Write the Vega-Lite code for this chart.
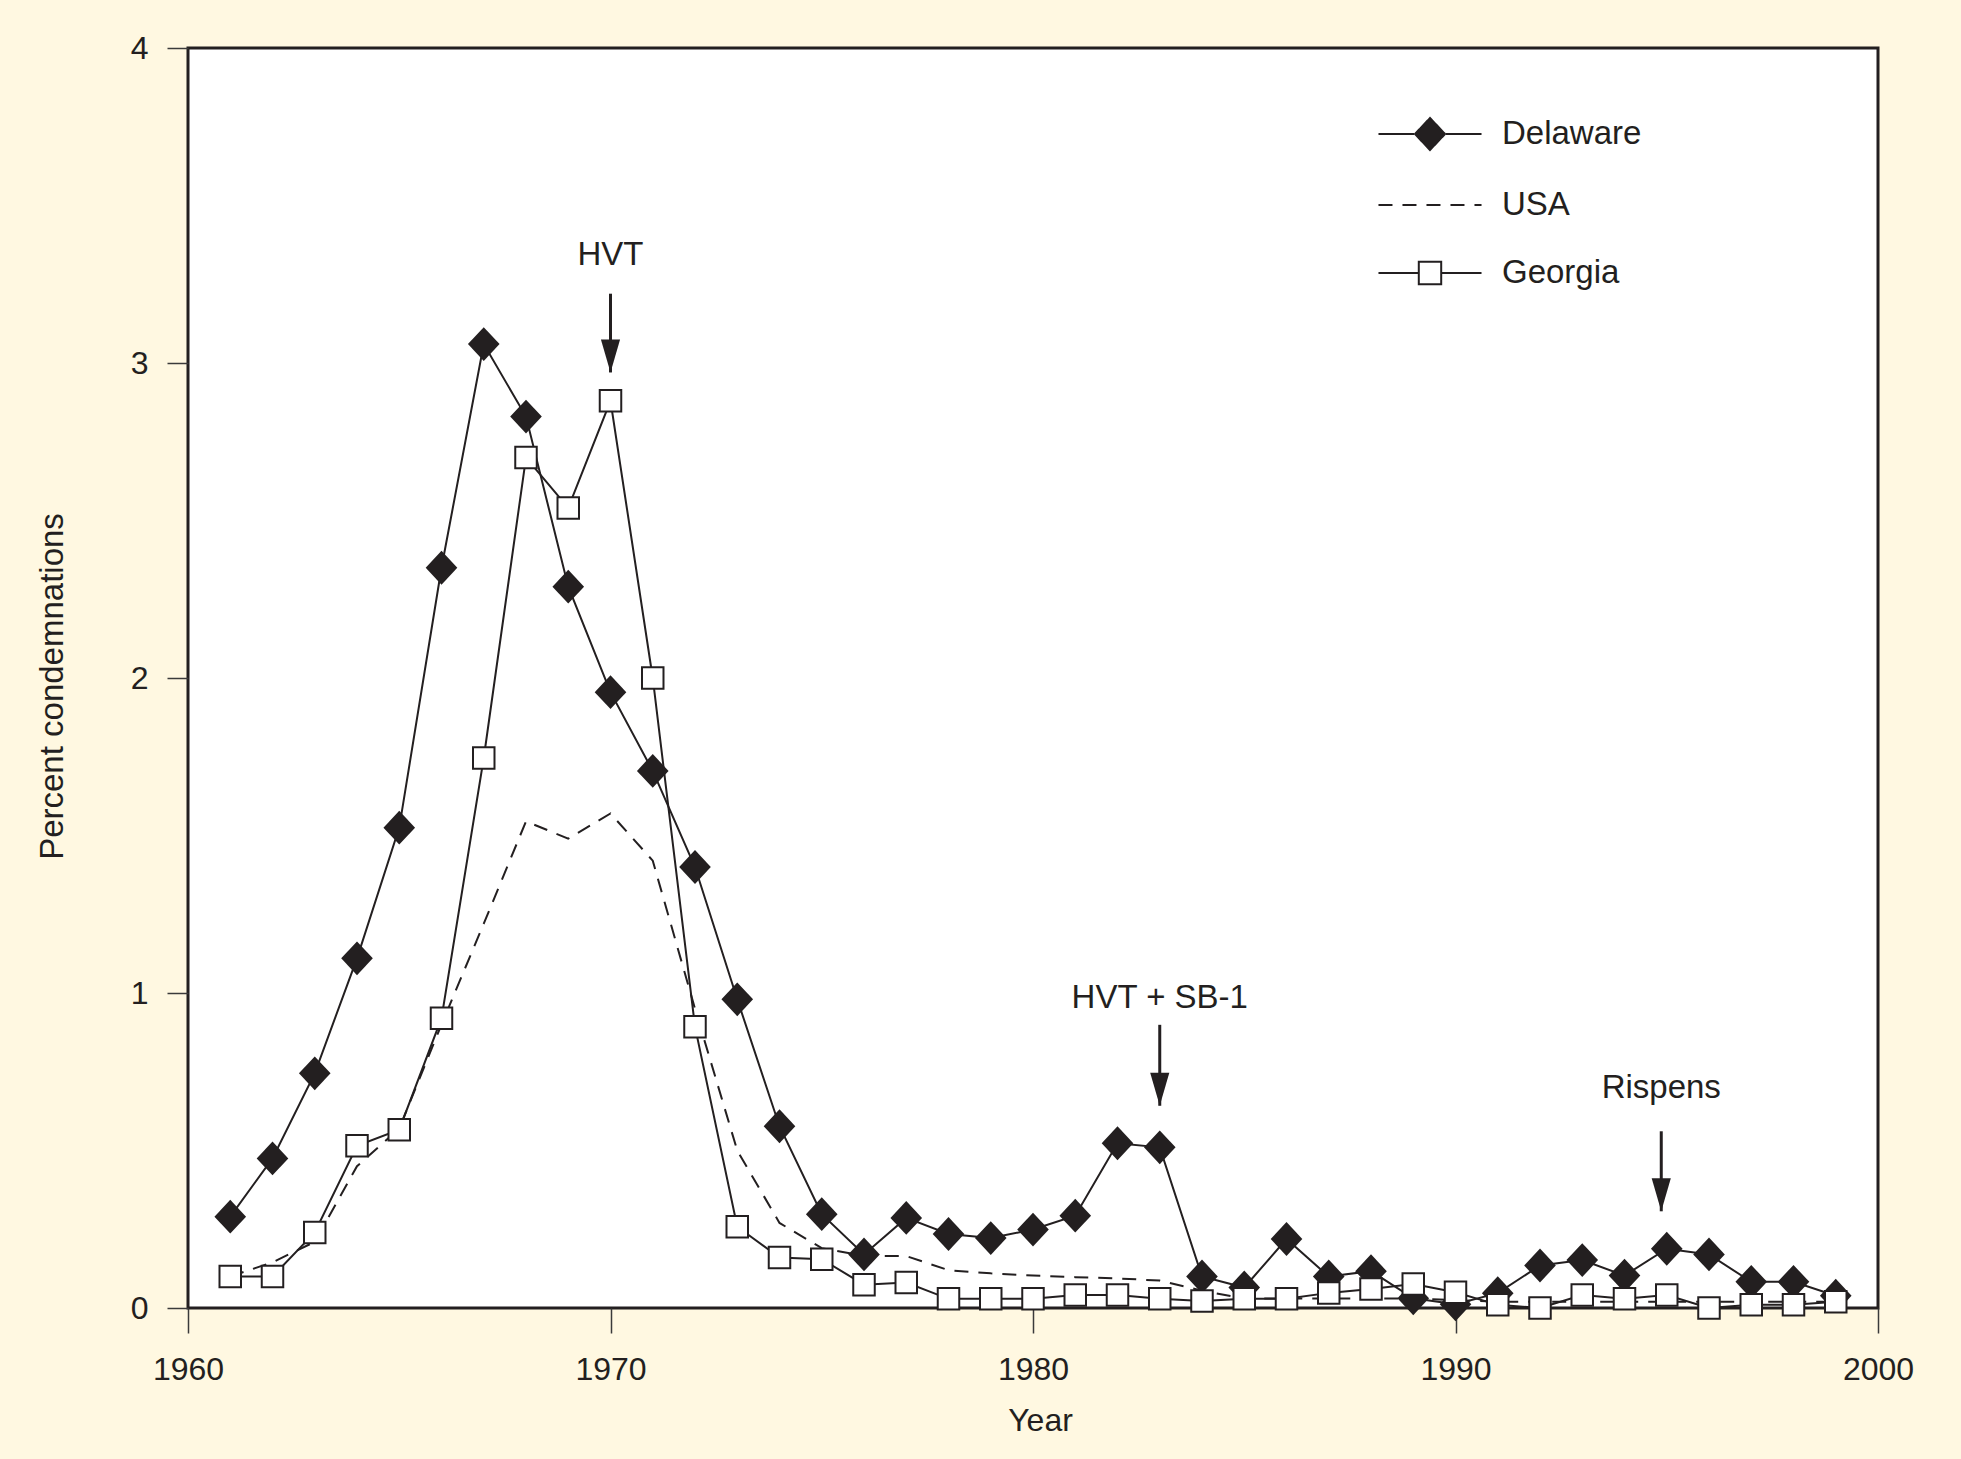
{
  "$schema": "https://vega.github.io/schema/vega-lite/v6.json",
  "width": 1690,
  "height": 1260,
  "autosize": {"type": "none"},
  "padding": {"left": 188, "top": 48, "right": 83, "bottom": 151},
  "background": "#fff8e1",
  "view": {"fill": "#ffffff", "stroke": "#231f20", "strokeWidth": 3},
  "config": {
    "font": "Liberation Sans",
    "text": {"color": "#231f20"},
    "axis": {"labelColor": "#231f20", "titleColor": "#231f20", "titleFontWeight": "normal", "grid": false, "domain": false}
  },
  "datasets": {
    "rates": [
      {"year": 1961, "state": "Delaware", "pct": 0.29},
      {"year": 1962, "state": "Delaware", "pct": 0.475},
      {"year": 1963, "state": "Delaware", "pct": 0.745},
      {"year": 1964, "state": "Delaware", "pct": 1.11},
      {"year": 1965, "state": "Delaware", "pct": 1.525},
      {"year": 1966, "state": "Delaware", "pct": 2.35},
      {"year": 1967, "state": "Delaware", "pct": 3.06},
      {"year": 1968, "state": "Delaware", "pct": 2.83},
      {"year": 1969, "state": "Delaware", "pct": 2.29},
      {"year": 1970, "state": "Delaware", "pct": 1.955},
      {"year": 1971, "state": "Delaware", "pct": 1.705},
      {"year": 1972, "state": "Delaware", "pct": 1.4},
      {"year": 1973, "state": "Delaware", "pct": 0.98},
      {"year": 1974, "state": "Delaware", "pct": 0.577},
      {"year": 1975, "state": "Delaware", "pct": 0.298},
      {"year": 1976, "state": "Delaware", "pct": 0.17},
      {"year": 1977, "state": "Delaware", "pct": 0.286},
      {"year": 1978, "state": "Delaware", "pct": 0.235},
      {"year": 1979, "state": "Delaware", "pct": 0.222},
      {"year": 1980, "state": "Delaware", "pct": 0.249},
      {"year": 1981, "state": "Delaware", "pct": 0.293},
      {"year": 1982, "state": "Delaware", "pct": 0.523},
      {"year": 1983, "state": "Delaware", "pct": 0.51},
      {"year": 1984, "state": "Delaware", "pct": 0.1},
      {"year": 1985, "state": "Delaware", "pct": 0.065},
      {"year": 1986, "state": "Delaware", "pct": 0.219},
      {"year": 1987, "state": "Delaware", "pct": 0.1},
      {"year": 1988, "state": "Delaware", "pct": 0.117},
      {"year": 1989, "state": "Delaware", "pct": 0.031},
      {"year": 1990, "state": "Delaware", "pct": 0.012},
      {"year": 1991, "state": "Delaware", "pct": 0.047},
      {"year": 1992, "state": "Delaware", "pct": 0.135},
      {"year": 1993, "state": "Delaware", "pct": 0.152},
      {"year": 1994, "state": "Delaware", "pct": 0.103},
      {"year": 1995, "state": "Delaware", "pct": 0.188},
      {"year": 1996, "state": "Delaware", "pct": 0.17},
      {"year": 1997, "state": "Delaware", "pct": 0.083},
      {"year": 1998, "state": "Delaware", "pct": 0.083},
      {"year": 1999, "state": "Delaware", "pct": 0.039},
      {"year": 1961, "state": "Georgia", "pct": 0.1},
      {"year": 1962, "state": "Georgia", "pct": 0.1},
      {"year": 1963, "state": "Georgia", "pct": 0.24},
      {"year": 1964, "state": "Georgia", "pct": 0.515},
      {"year": 1965, "state": "Georgia", "pct": 0.566},
      {"year": 1966, "state": "Georgia", "pct": 0.92},
      {"year": 1967, "state": "Georgia", "pct": 1.746},
      {"year": 1968, "state": "Georgia", "pct": 2.7},
      {"year": 1969, "state": "Georgia", "pct": 2.54},
      {"year": 1970, "state": "Georgia", "pct": 2.88},
      {"year": 1971, "state": "Georgia", "pct": 2.0},
      {"year": 1972, "state": "Georgia", "pct": 0.893},
      {"year": 1973, "state": "Georgia", "pct": 0.258},
      {"year": 1974, "state": "Georgia", "pct": 0.16},
      {"year": 1975, "state": "Georgia", "pct": 0.155},
      {"year": 1976, "state": "Georgia", "pct": 0.074},
      {"year": 1977, "state": "Georgia", "pct": 0.081},
      {"year": 1978, "state": "Georgia", "pct": 0.029},
      {"year": 1979, "state": "Georgia", "pct": 0.029},
      {"year": 1980, "state": "Georgia", "pct": 0.029},
      {"year": 1981, "state": "Georgia", "pct": 0.041},
      {"year": 1982, "state": "Georgia", "pct": 0.041},
      {"year": 1983, "state": "Georgia", "pct": 0.029},
      {"year": 1984, "state": "Georgia", "pct": 0.022},
      {"year": 1985, "state": "Georgia", "pct": 0.029},
      {"year": 1986, "state": "Georgia", "pct": 0.029},
      {"year": 1987, "state": "Georgia", "pct": 0.048},
      {"year": 1988, "state": "Georgia", "pct": 0.06},
      {"year": 1989, "state": "Georgia", "pct": 0.076},
      {"year": 1990, "state": "Georgia", "pct": 0.05},
      {"year": 1991, "state": "Georgia", "pct": 0.01},
      {"year": 1992, "state": "Georgia", "pct": 0.0},
      {"year": 1993, "state": "Georgia", "pct": 0.041},
      {"year": 1994, "state": "Georgia", "pct": 0.029},
      {"year": 1995, "state": "Georgia", "pct": 0.041},
      {"year": 1996, "state": "Georgia", "pct": 0.0},
      {"year": 1997, "state": "Georgia", "pct": 0.01},
      {"year": 1998, "state": "Georgia", "pct": 0.01},
      {"year": 1999, "state": "Georgia", "pct": 0.02},
      {"year": 1961, "state": "USA", "pct": 0.1},
      {"year": 1962, "state": "USA", "pct": 0.145},
      {"year": 1963, "state": "USA", "pct": 0.21},
      {"year": 1964, "state": "USA", "pct": 0.45},
      {"year": 1965, "state": "USA", "pct": 0.57},
      {"year": 1966, "state": "USA", "pct": 0.9},
      {"year": 1967, "state": "USA", "pct": 1.22},
      {"year": 1968, "state": "USA", "pct": 1.545},
      {"year": 1969, "state": "USA", "pct": 1.49},
      {"year": 1970, "state": "USA", "pct": 1.57},
      {"year": 1971, "state": "USA", "pct": 1.42},
      {"year": 1972, "state": "USA", "pct": 0.95},
      {"year": 1973, "state": "USA", "pct": 0.5},
      {"year": 1974, "state": "USA", "pct": 0.27},
      {"year": 1975, "state": "USA", "pct": 0.19},
      {"year": 1976, "state": "USA", "pct": 0.165},
      {"year": 1977, "state": "USA", "pct": 0.165},
      {"year": 1978, "state": "USA", "pct": 0.12},
      {"year": 1979, "state": "USA", "pct": 0.11},
      {"year": 1980, "state": "USA", "pct": 0.103},
      {"year": 1981, "state": "USA", "pct": 0.098},
      {"year": 1982, "state": "USA", "pct": 0.094},
      {"year": 1983, "state": "USA", "pct": 0.087},
      {"year": 1984, "state": "USA", "pct": 0.055},
      {"year": 1985, "state": "USA", "pct": 0.03},
      {"year": 1986, "state": "USA", "pct": 0.03},
      {"year": 1987, "state": "USA", "pct": 0.03},
      {"year": 1988, "state": "USA", "pct": 0.03},
      {"year": 1989, "state": "USA", "pct": 0.03},
      {"year": 1990, "state": "USA", "pct": 0.025},
      {"year": 1991, "state": "USA", "pct": 0.02},
      {"year": 1992, "state": "USA", "pct": 0.02},
      {"year": 1993, "state": "USA", "pct": 0.02},
      {"year": 1994, "state": "USA", "pct": 0.02},
      {"year": 1995, "state": "USA", "pct": 0.02},
      {"year": 1996, "state": "USA", "pct": 0.02},
      {"year": 1997, "state": "USA", "pct": 0.02},
      {"year": 1998, "state": "USA", "pct": 0.02},
      {"year": 1999, "state": "USA", "pct": 0.02}
    ],
    "notes": [
      {"label": "HVT", "year": 1970, "ytext": 3.344, "ytop": 3.22, "ytip": 2.97},
      {"label": "HVT + SB-1", "year": 1983, "ytext": 0.983, "ytop": 0.899, "ytip": 0.642},
      {"label": "Rispens", "year": 1994.87, "ytext": 0.699, "ytop": 0.561, "ytip": 0.307}
    ]
  },
  "layer": [
    {
      "data": {"name": "rates"},
      "transform": [{"filter": "datum.state === 'USA'"}],
      "mark": {"type": "line", "stroke": "#231f20", "strokeWidth": 2, "strokeDash": [14, 10]},
      "encoding": {
        "x": {
          "field": "year", "type": "quantitative",
          "scale": {"domain": [1960, 2000], "nice": false, "zero": false},
          "axis": {
            "title": "Year", "values": [1960, 1970, 1980, 1990, 2000], "format": "d",
            "tickSize": 25, "tickWidth": 1.5, "tickColor": "#3a3a3a",
            "labelFontSize": 32, "labelPadding": 21, "labelFlush": false,
            "titleFontSize": 32, "titlePadding": 20, "titleX": 852
          }
        },
        "y": {
          "field": "pct", "type": "quantitative",
          "scale": {"domain": [0, 4], "nice": false},
          "axis": {
            "title": "Percent condemnations", "values": [0, 1, 2, 3, 4], "format": "d",
            "tickSize": 21, "tickWidth": 1.5, "tickColor": "#3a3a3a",
            "labelFontSize": 32, "labelPadding": 19, "labelFlush": false,
            "titleFontSize": 33, "titlePadding": 61, "titleY": 638
          }
        }
      }
    },
    {
      "data": {"name": "rates"},
      "transform": [{"filter": "datum.state === 'Delaware'"}],
      "mark": {"type": "line", "stroke": "#231f20", "strokeWidth": 2},
      "encoding": {
        "x": {"field": "year", "type": "quantitative"},
        "y": {"field": "pct", "type": "quantitative"}
      }
    },
    {
      "data": {"name": "rates"},
      "transform": [{"filter": "datum.state === 'Delaware'"}],
      "mark": {"type": "point", "shape": "M0,-1.07L1,0L0,1.07L-1,0Z", "size": 1000, "filled": true, "fill": "#231f20", "strokeWidth": 0, "opacity": 1},
      "encoding": {
        "x": {"field": "year", "type": "quantitative"},
        "y": {"field": "pct", "type": "quantitative"}
      }
    },
    {
      "data": {"name": "rates"},
      "transform": [{"filter": "datum.state === 'Georgia'"}],
      "mark": {"type": "line", "stroke": "#231f20", "strokeWidth": 2},
      "encoding": {
        "x": {"field": "year", "type": "quantitative"},
        "y": {"field": "pct", "type": "quantitative"}
      }
    },
    {
      "data": {"name": "rates"},
      "transform": [{"filter": "datum.state === 'Georgia'"}],
      "mark": {"type": "point", "shape": "square", "size": 462, "filled": true, "fill": "#ffffff", "stroke": "#231f20", "strokeWidth": 2, "opacity": 1},
      "encoding": {
        "x": {"field": "year", "type": "quantitative"},
        "y": {"field": "pct", "type": "quantitative"}
      }
    },
    {
      "data": {"name": "notes"},
      "mark": {"type": "rule", "stroke": "#231f20", "strokeWidth": 3},
      "encoding": {
        "x": {"field": "year", "type": "quantitative"},
        "y": {"field": "ytop", "type": "quantitative"},
        "y2": {"field": "ytip"}
      }
    },
    {
      "data": {"name": "notes"},
      "mark": {"type": "point", "shape": "M-0.58,-2L0.58,-2L0,0Z", "size": 1089, "filled": true, "fill": "#231f20", "strokeWidth": 0, "opacity": 1},
      "encoding": {
        "x": {"field": "year", "type": "quantitative"},
        "y": {"field": "ytip", "type": "quantitative"}
      }
    },
    {
      "data": {"name": "notes"},
      "mark": {"type": "text", "fontSize": 33, "align": "center", "baseline": "middle", "color": "#231f20"},
      "encoding": {
        "x": {"field": "year", "type": "quantitative"},
        "y": {"field": "ytext", "type": "quantitative"},
        "text": {"field": "label"}
      }
    },
    {
      "data": {"name": "rates"},
      "transform": [{"filter": "datum.year < 0"}],
      "mark": {"type": "point", "filled": true, "stroke": "#231f20", "strokeWidth": 2, "opacity": 1},
      "encoding": {
        "x": {"field": "year", "type": "quantitative"},
        "y": {"field": "pct", "type": "quantitative"},
        "shape": {
          "field": "state", "type": "nominal",
          "scale": {"domain": ["Delaware", "USA", "Georgia"], "range": ["M-3.22,0L-1,0M1,0L3.22,0M0,-1L0.94,0L0,1L-0.94,0Z", "M-3.22,0L3.22,0", "M-3.22,0L-0.7,0M0.7,0L3.22,0M-0.7,-0.7L0.7,-0.7L0.7,0.7L-0.7,0.7Z"]},
          "legend": {"title": null, "orient": "none", "legendX": 1225, "legendY": 69, "padding": 0, "symbolSize": 1024, "symbolStrokeWidth": 2, "symbolOpacity": 1, "labelFontSize": 33, "labelColor": "#231f20", "labelOffset": 55, "rowPadding": 34}
        },
        "fill": {
          "field": "state", "type": "nominal",
          "scale": {"domain": ["Delaware", "USA", "Georgia"], "range": ["#231f20", "transparent", "#ffffff"]},
          "legend": {"title": null, "orient": "none", "legendX": 1225, "legendY": 69, "padding": 0, "symbolSize": 1024, "symbolStrokeWidth": 2, "symbolOpacity": 1, "labelFontSize": 33, "labelColor": "#231f20", "labelOffset": 55, "rowPadding": 34}
        },
        "strokeDash": {
          "field": "state", "type": "nominal",
          "scale": {"domain": ["Delaware", "USA", "Georgia"], "range": [[1, 0], [14, 10], [1, 0]]},
          "legend": {"title": null, "orient": "none", "legendX": 1225, "legendY": 69, "padding": 0, "symbolSize": 1024, "symbolStrokeWidth": 2, "symbolOpacity": 1, "labelFontSize": 33, "labelColor": "#231f20", "labelOffset": 55, "rowPadding": 34}
        }
      }
    }
  ]
}
